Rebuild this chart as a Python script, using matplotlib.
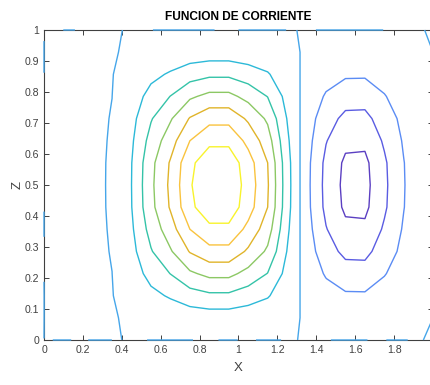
import numpy as np
import matplotlib
matplotlib.use('Agg')
import matplotlib.pyplot as plt

plt.rcParams['font.family'] = ['Liberation Sans', 'DejaVu Sans']

# staggered grid: walls at x = 0 and 2, cell centres 0.05 ... 1.95; 15 rows in z
x = np.r_[0.0, np.arange(0.05, 1.96, 0.1), 2.0]
z = np.linspace(0, 1, 15)

# psi along the mid-height row (z = 0.5), one value per column
x_amp = [0, 0, 0, 0, 0.008, 0.100, 0.279, 0.420, 0.590, 0.680, 0.680, 0.557,
         0.410, 0.140, -0.071, -0.230, -0.326, -0.330, -0.220, -0.105, -0.020, 0]
# vertical shape of the two rolls, one value per row
z_shape = [0, 0.070, 0.265, 0.481, 0.689, 0.847, 0.976, 1.0,
           0.976, 0.847, 0.689, 0.481, 0.265, 0.070, 0]
# very weak cell next to the left wall (columns 1-4, same in every row)
corner_cell = [-0.003, -0.006, -0.008, -0.004]

# round-off left on the walls, in units of 1e-10 (gives the broken zero line)
bottom_wall = [-27000, 3000, -335, 100, -1, 1, -0.25, -0.25, -0.25, 1.31, -1.48,
               1.74, -2.61, 1.17, -1.0, -1, 3, 3, -20, 180, -720, 70000]
top_wall = [-13.3, -0.96, 1, -10.1, -1, 0.89, 1, -9, -9, -9, 24.3, -24.3, -24.3,
            1.28, -1.28, 1.39, 1.39, 1.39, -0.089, -0.089, -0.089, 0.547]
left_wall = [358700, 358700, -210700, -1, 0.515, -0.129, -1, -1, -1, -1, -1, -1, 13.3]
right_wall = [1, 1, 1, 1, 1, 1, 1, 1, 1, 1, 1, 1, 1]

levels = [-0.3, -0.2, -0.1, 0.0, 0.1, 0.2, 0.3, 0.4, 0.5, 0.6]
line_colors = ['#5b3fc2', '#5a5ce2', '#5b8cf4', '#46a6ea', '#2cb9d8',
               '#34c3a8', '#8cc864', '#e0b42a', '#f9c33e', '#f8f32c']

# build the field
psi = np.outer(z_shape, x_amp)
psi[1:-1, 1:5] += corner_cell
psi[0, :] = np.array(bottom_wall) * 1e-10
psi[-1, :] = np.array(top_wall) * 1e-10
psi[1:-1, 0] = np.array(left_wall) * 1e-10
psi[1:-1, -1] = np.array(right_wall) * 1e-10

fig = plt.figure(figsize=(4.3, 3.85), dpi=100)
ax = fig.add_axes([44 / 430, 45 / 385, 389 / 430, 310 / 385])

cs = ax.contour(x, z, psi, levels=levels, colors=line_colors, linewidths=1.0, zorder=3)
cs.set_clip_on(False)

gray = '#404040'
ax.set_xlim(0, 2)
ax.set_ylim(0, 1)
ax.set_xticks(np.arange(0, 2.01, 0.2))
ax.set_xticklabels(['0', '0.2', '0.4', '0.6', '0.8', '1', '1.2', '1.4', '1.6', '1.8', '2'])
ax.set_yticks(np.arange(0, 1.01, 0.1))
ax.set_yticklabels(['0', '0.1', '0.2', '0.3', '0.4', '0.5', '0.6', '0.7', '0.8', '0.9', '1'])
ax.tick_params(direction='in', length=3.5, width=0.7, top=True, right=True,
               colors=gray, labelsize=7.6, pad=3.5)
for s in ax.spines.values():
    s.set_color(gray)
    s.set_linewidth(0.8)

ax.set_title('FUNCION DE CORRIENTE', fontsize=8.6, fontweight='bold', pad=7)
ax.set_xlabel('X', fontsize=9.5, color=gray, labelpad=5)
ax.set_ylabel('Z', fontsize=9.5, color=gray, labelpad=1)

fig.savefig('out.png', dpi=100)
